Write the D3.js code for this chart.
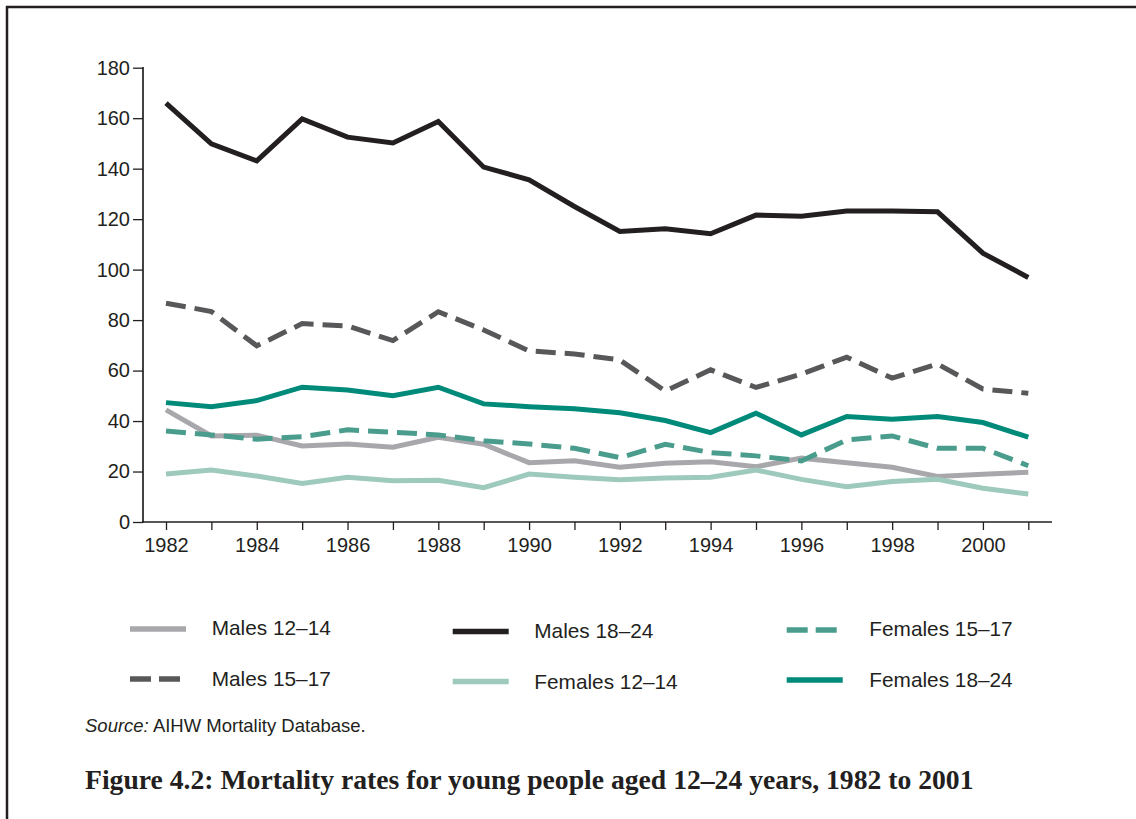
<!DOCTYPE html>
<html>
<head>
<meta charset="utf-8">
<script src="https://cdn.jsdelivr.net/npm/d3@7"></script>
<style>
  html, body { margin: 0; padding: 0; background: #fff; }
  svg { display: block; }
</style>
</head>
<body>
<svg id="chart" width="1136" height="819"></svg>
<script>
// ---- Data ----
const years = [1982,1983,1984,1985,1986,1987,1988,1989,1990,1991,1992,1993,1994,1995,1996,1997,1998,1999,2000,2001];
const males12_14   = [44.4,34.1,34.4,30.1,30.9,29.6,33.6,30.8,23.5,24.3,21.7,23.3,23.9,21.9,25.3,23.5,21.7,18.0,18.9,19.7];
const males15_17   = [86.7,83.4,69.8,78.6,77.7,71.9,83.3,76.1,67.8,66.6,64.2,51.9,60.3,53.3,58.6,65.3,57.0,62.6,52.7,51.0];
const males18_24   = [166.0,149.8,143.1,159.7,152.5,150.2,158.7,140.6,135.6,125.0,115.1,116.2,114.2,121.6,121.1,123.2,123.2,122.9,106.5,96.9];
const females12_14 = [19.0,20.6,18.2,15.3,17.7,16.3,16.5,13.6,19.0,17.7,16.7,17.4,17.7,20.6,16.9,14.0,16.0,16.9,13.4,11.1];
const females15_17 = [36.1,34.5,32.8,33.8,36.5,35.6,34.5,32.2,30.9,29.2,25.5,30.8,27.5,26.2,24.2,32.5,34.1,29.2,29.2,22.3];
const females18_24 = [47.3,45.7,48.1,53.4,52.3,50.0,53.4,46.8,45.7,44.9,43.3,40.2,35.4,43.1,34.5,41.8,40.7,41.8,39.4,33.6];
const yTicks = [0,20,40,60,80,100,120,140,160,180];
const xTickLabels = [1982,1984,1986,1988,1990,1992,1994,1996,1998,2000];
const seriesNames = ["Males 12–14","Males 15–17","Males 18–24","Females 12–14","Females 15–17","Females 18–24"];
const sourceLabel = "Source:";
const sourceText = " AIHW Mortality Database.";
const captionText = "Figure 4.2: Mortality rates for young people aged 12–24 years, 1982 to 2001";

// ---- Styles ----
const ink = "#231f20";
const styles = {
  "Males 12–14":   {color:"#a8a7ab", dash:null},
  "Males 15–17":   {color:"#58585a", dash:"20,9"},
  "Males 18–24":   {color:"#231f20", dash:null},
  "Females 12–14": {color:"#9ec9bd", dash:null},
  "Females 15–17": {color:"#4a9d8d", dash:"20,9"},
  "Females 18–24": {color:"#008a7a", dash:null}
};
const seriesValues = {
  "Males 12–14": males12_14, "Males 15–17": males15_17, "Males 18–24": males18_24,
  "Females 12–14": females12_14, "Females 15–17": females15_17, "Females 18–24": females18_24
};
const drawOrder = ["Males 12–14","Females 12–14","Females 15–17","Males 15–17","Females 18–24","Males 18–24"];

const svg = d3.select("#chart");
const font = "'Liberation Sans', Arial, Helvetica, sans-serif";

// frame (top and left rules)
svg.append("line").attr("x1",6).attr("x2",1136).attr("y1",7).attr("y2",7).attr("stroke",ink).attr("stroke-width",2.5);
svg.append("line").attr("x1",7).attr("x2",7).attr("y1",6).attr("y2",819).attr("stroke",ink).attr("stroke-width",2.5);

// scales
const x = d3.scaleLinear().domain([1982,2001]).range([166,1028.3]);
const y = d3.scaleLinear().domain([0,180]).range([522,67.7]);
const axisLeftX = 143, axisRightX = 1052;

// y axis
const gy = svg.append("g").attr("transform",`translate(${axisLeftX},0)`)
  .call(d3.axisLeft(y).tickValues(yTicks).tickSize(10).tickPadding(3).tickFormat(d3.format("d")));
gy.select(".domain").remove();
gy.selectAll(".tick line").attr("stroke",ink).attr("stroke-width",1.3);
gy.selectAll(".tick text").attr("fill",ink).style("font-family",font).style("font-size","20px");
svg.append("line").attr("x1",axisLeftX).attr("x2",axisLeftX).attr("y1",y(180)-0.6).attr("y2",y(0)+0.8)
  .attr("stroke",ink).attr("stroke-width",1.7);

// x axis
const gx = svg.append("g").attr("transform",`translate(0,${y(0)})`)
  .call(d3.axisBottom(x).tickValues(years).tickSize(8).tickPadding(8)
    .tickFormat(d => xTickLabels.includes(d) ? String(d) : ""));
gx.select(".domain").remove();
gx.selectAll(".tick line").attr("stroke",ink).attr("stroke-width",1.3);
gx.selectAll(".tick text").attr("fill",ink).style("font-family",font).style("font-size","20px");
svg.append("line").attr("x1",axisLeftX-0.8).attr("x2",axisRightX).attr("y1",y(0)).attr("y2",y(0))
  .attr("stroke",ink).attr("stroke-width",1.7);

// lines
const line = d3.line().x((d,i)=>x(years[i])).y(d=>y(d));
drawOrder.forEach(name => {
  const s = styles[name];
  svg.append("path").datum(seriesValues[name])
    .attr("d", line).attr("fill","none").attr("stroke", s.color)
    .attr("stroke-width", 5).attr("stroke-linejoin","miter").attr("stroke-linecap","butt")
    .attr("stroke-dasharray", s.dash);
});

// legend
const legendCols = [{lx:130, tx:211.7, dy:0},{lx:452.7, tx:534.3, dy:2.5},{lx:786.7, tx:869.3, dy:1}];
const legendRows = [{ly:629, ty:635},{ly:679, ty:686}];
const legendLayout = [
  ["Males 12–14",0,0],["Males 15–17",0,1],
  ["Males 18–24",1,0],["Females 12–14",1,1],
  ["Females 15–17",2,0],["Females 18–24",2,1]
];
legendLayout.forEach(([name,c,r]) => {
  const s = styles[name], col = legendCols[c], row = legendRows[r];
  svg.append("line").attr("x1",col.lx).attr("x2",col.lx+56)
    .attr("y1",row.ly+col.dy).attr("y2",row.ly+col.dy)
    .attr("stroke",s.color).attr("stroke-width",5.5).attr("stroke-dasharray", s.dash ? "21,8" : null);
  svg.append("text").attr("x",col.tx).attr("y",row.ty+col.dy)
    .attr("fill",ink).style("font-family",font).style("font-size","20.8px").text(name);
});

// source
const src = svg.append("text").attr("x",85).attr("y",731.5).attr("fill",ink)
  .style("font-family",font).style("font-size","18.5px");
src.append("tspan").style("font-style","italic").text(sourceLabel);
src.append("tspan").text(sourceText);

// caption
const cap = svg.append("text").attr("x",85).attr("y",789).attr("fill",ink)
  .style("font-family","'Liberation Serif','Times New Roman',serif").style("font-weight","bold")
  .style("font-size","26px").text(captionText);
const w = cap.node().getComputedTextLength();
cap.style("font-size", (26*889/w).toFixed(2)+"px");
</script>
</body>
</html>
